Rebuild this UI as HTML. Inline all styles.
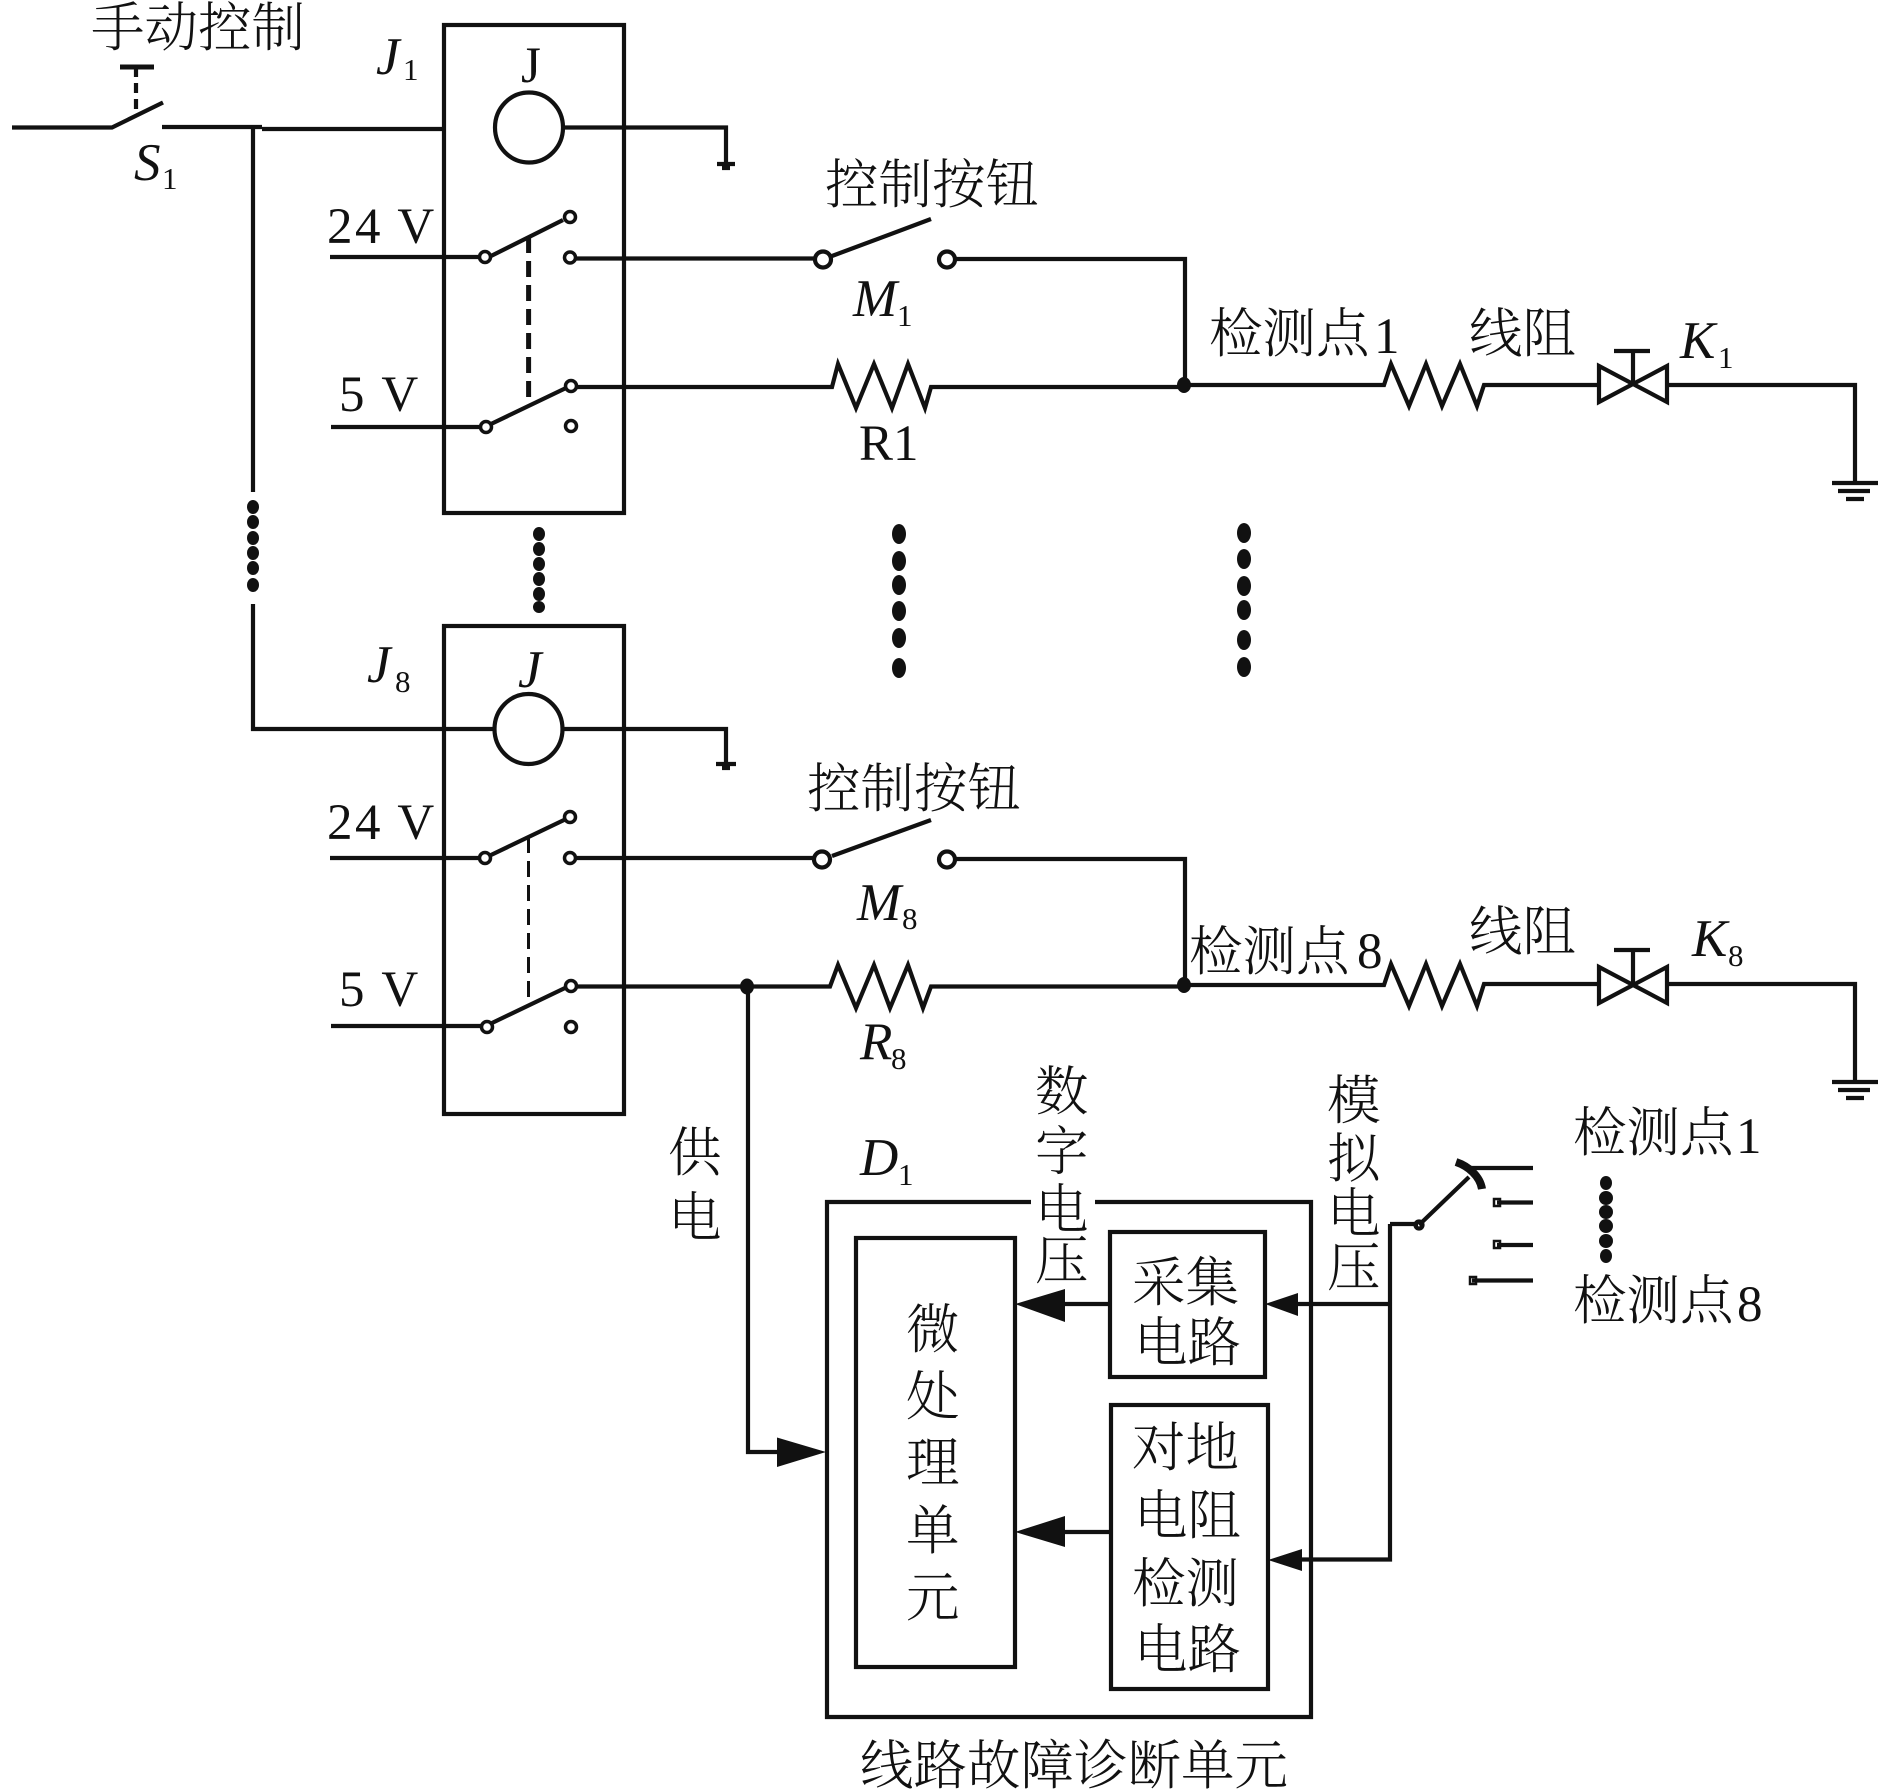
<!DOCTYPE html>
<html><head><meta charset="utf-8">
<style>
html,body{margin:0;padding:0;background:#fff}
svg{display:block}
.c{font-family:"Liberation Serif","Noto Serif CJK SC",serif;font-size:53.5px;font-weight:300;fill:#111}
.l{font-family:"Liberation Serif",serif;font-size:51px;fill:#111}
.v{font-family:"Liberation Serif",serif;font-size:51px;letter-spacing:2.5px;fill:#111}
.i{font-family:"Liberation Serif",serif;font-size:53px;font-style:italic;fill:#111}
.s{font-family:"Liberation Serif",serif;font-size:31px;fill:#111}
</style></head><body>
<svg width="1890" height="1791" viewBox="0 0 1890 1791" xmlns="http://www.w3.org/2000/svg">
<rect width="1890" height="1791" fill="#fff"/>
<g fill="none" stroke="#111" stroke-width="4.2">
<!-- S1 -->
<path d="M12 127.5H112L163 102.5M162 127H262M262 129H443"/>
<path d="M120 67H154" stroke-width="5"/>
<path d="M136 67V115" stroke-dasharray="10 6"/>
<path d="M253 127V492"/>
<!-- relay boxes -->
<rect x="444" y="25" width="180" height="488"/>
<rect x="444" y="626" width="180" height="488"/>
<!-- coil 1 -->
<ellipse cx="529" cy="127.5" rx="34" ry="35"/>
<path d="M562 127.5H726V165"/>
<path d="M717 164H735"/><path d="M722 168H730"/>
<!-- coil 8 -->
<path d="M253 604V729H495"/>
<ellipse cx="528.5" cy="729" rx="34" ry="35" fill="#fff"/>
<path d="M562 729H726V765"/>
<path d="M716 764H736"/><path d="M722 768H730"/>
<!-- J1 contacts -->
<path d="M330 257H479M491 256L563 220M576 258.5H815"/>
<path d="M528.6 237V406" stroke-width="5" stroke-dasharray="16 8"/>
<path d="M331 427H480M491 424L566 388M577 387H832L838 364L856 408L874 364L892 408L908 364L925 408L931 387H1184"/>
<circle cx="485" cy="257" r="5.5" stroke-width="3.5"/>
<circle cx="570" cy="217" r="5.5" stroke-width="3.5"/>
<circle cx="570" cy="257.5" r="5.5" stroke-width="3.5"/>
<circle cx="486" cy="427" r="5.5" stroke-width="3.5"/>
<circle cx="571" cy="386" r="5.5" stroke-width="3.5"/>
<circle cx="571" cy="426" r="5.5" stroke-width="3.5"/>
<!-- M1 -->
<circle cx="823" cy="259.5" r="8"/>
<circle cx="947" cy="259.5" r="8"/>
<path d="M832 256L931 219M955 259H1185V385"/>
<!-- row 1 right -->
<path d="M1184 385H1384L1391 364L1409 406L1426 364L1442 406L1460 364L1477 406L1484 385H1599M1667 385H1855V483"/>
<path d="M1599 366L1667 402V366L1599 402Z"/>
<path d="M1633 384V351M1614 351H1650" />
<path d="M1832 483H1878M1838 491H1870M1846 499H1864"/>
<!-- J8 contacts -->
<path d="M330 858H480M491 855L564 820M576 858H814"/>
<path d="M528.5 837V998" stroke-width="3" stroke-dasharray="16 8"/>
<path d="M331 1026H481M492 1023L565 988M577 986.5H830L838 965L856 1008L874 965L890 1008L908 965L923 1008L931 986.5H1184"/>
<circle cx="485" cy="858" r="5.5" stroke-width="3.5"/>
<circle cx="570" cy="817" r="5.5" stroke-width="3.5"/>
<circle cx="570" cy="858" r="5.5" stroke-width="3.5"/>
<circle cx="487" cy="1027" r="5.5" stroke-width="3.5"/>
<circle cx="571" cy="986" r="5.5" stroke-width="3.5"/>
<circle cx="571" cy="1027" r="5.5" stroke-width="3.5"/>
<!-- M8 -->
<circle cx="822" cy="859.5" r="8"/>
<circle cx="947" cy="859.5" r="8"/>
<path d="M832 856L931 820M955 859H1185V985"/>
<!-- row 8 right -->
<path d="M1184 985H1384L1391 964L1409 1006L1426 964L1442 1006L1460 964L1477 1006L1484 984H1599M1667 984H1855V1082"/>
<path d="M1599 967L1667 1003V967L1599 1003Z"/>
<path d="M1633 984V950M1614 950H1650"/>
<path d="M1832 1082H1878M1838 1090H1870M1846 1098H1864"/>
<!-- feed -->
<path d="M748 986V1452H790"/>
<!-- D1 -->
<path d="M1031 1202H827V1717H1311V1202H1095"/>
<rect x="856" y="1238" width="159" height="429"/>
<rect x="1110" y="1232" width="155" height="145"/>
<rect x="1111" y="1405" width="157" height="284"/>
<path d="M1110 1304H1050M1110 1532H1050M1390 1304H1290M1390 1224V1559.5H1290M1390 1224H1418M1419 1225L1469 1177"/>
<circle cx="1419" cy="1225" r="3.5"/>
<path d="M1456 1162C1468 1166 1480 1176 1482 1189" stroke-width="8"/>
<path d="M1469 1168H1533M1497 1202.5H1533M1497 1245H1533M1472 1280.5H1533"/>
<rect x="1494" y="1199" width="6" height="7" stroke-width="2.5"/>
<rect x="1494" y="1241" width="6" height="7" stroke-width="2.5"/>
<rect x="1470" y="1277" width="6" height="7" stroke-width="2.5"/>
</g>
<g fill="#111">
<!-- junctions -->
<ellipse cx="1184" cy="385" rx="7" ry="8"/>
<ellipse cx="1184" cy="985" rx="7" ry="8"/>
<ellipse cx="747" cy="986.5" rx="7" ry="8"/>
<!-- arrowheads -->
<path d="M777 1437.5L826 1452L777 1467Z"/>
<path d="M1015 1304L1065 1289V1322Z"/>
<path d="M1015 1532L1065 1516V1547Z"/>
<path d="M1265 1304L1298 1293V1316Z"/>
<path d="M1268 1560L1302 1549V1571Z"/>
<!-- dots: left -->
<ellipse cx="253" cy="507" rx="6" ry="7"/><ellipse cx="253" cy="522" rx="6" ry="7"/><ellipse cx="253" cy="538" rx="6" ry="7"/><ellipse cx="253" cy="553" rx="6" ry="7"/><ellipse cx="253" cy="568" rx="6" ry="7"/><ellipse cx="253" cy="585" rx="6" ry="7"/>
<!-- dots: between relays -->
<ellipse cx="539" cy="534" rx="6" ry="7"/><ellipse cx="539" cy="549" rx="6" ry="7"/><ellipse cx="539" cy="564" rx="6" ry="7"/><ellipse cx="539" cy="579" rx="6" ry="7"/><ellipse cx="539" cy="594" rx="6" ry="7"/><ellipse cx="539" cy="607" rx="6" ry="6"/>
<!-- dots: middle -->
<ellipse cx="899" cy="534" rx="7" ry="10"/><ellipse cx="899" cy="561" rx="7" ry="10"/><ellipse cx="899" cy="585" rx="7" ry="10"/><ellipse cx="899" cy="611" rx="7" ry="10"/><ellipse cx="899" cy="638" rx="7" ry="10"/><ellipse cx="899" cy="668" rx="7" ry="10"/>
<!-- dots: right -->
<ellipse cx="1244" cy="533" rx="7" ry="10"/><ellipse cx="1244" cy="559" rx="7" ry="10"/><ellipse cx="1244" cy="586" rx="7" ry="10"/><ellipse cx="1244" cy="610" rx="7" ry="10"/><ellipse cx="1244" cy="640" rx="7" ry="10"/><ellipse cx="1244" cy="667" rx="7" ry="10"/>
<!-- dots: test points -->
<ellipse cx="1606" cy="1183" rx="6" ry="7"/><ellipse cx="1606" cy="1198" rx="7" ry="7"/><ellipse cx="1606" cy="1212" rx="7" ry="7"/><ellipse cx="1606" cy="1226" rx="7" ry="7"/><ellipse cx="1606" cy="1241" rx="7" ry="7"/><ellipse cx="1606" cy="1256" rx="6" ry="7"/>
</g>
<!-- labels -->
<text class="c" x="91" y="46">手动控制</text>
<text class="i" x="134" y="180">S</text><text class="s" x="162" y="189">1</text>
<text class="i" x="376" y="74">J</text><text class="s" x="403" y="80">1</text>
<text class="l" x="521" y="82">J</text>
<text class="v" x="327" y="243">24 V</text>
<text class="v" x="339" y="411">5 V</text>
<text class="c" x="825" y="203">控制按钮</text>
<text class="i" x="853" y="316">M</text><text class="s" x="897" y="326">1</text>
<text class="l" x="859" y="460">R1</text>
<text class="c" x="1209" y="352">检测点</text><text class="l" x="1374" y="353">1</text>
<text class="c" x="1469" y="352">线阻</text>
<text class="i" x="1680" y="358">K</text><text class="s" x="1718" y="368">1</text>
<text class="i" x="367" y="682">J</text><text class="s" x="395" y="692">8</text>
<text class="i" x="518" y="687">J</text>
<text class="v" x="327" y="839">24 V</text>
<text class="v" x="339" y="1006">5 V</text>
<text class="c" x="807" y="807">控制按钮</text>
<text class="i" x="857" y="920">M</text><text class="s" x="902" y="929">8</text>
<text class="i" x="860" y="1059">R</text><text class="s" x="891" y="1069">8</text>
<text class="c" x="1189" y="970">检测点</text><text class="l" x="1357" y="968">8</text>
<text class="c" x="1469" y="950">线阻</text>
<text class="i" x="1692" y="956">K</text><text class="s" x="1728" y="966">8</text>
<text class="c" x="668" y="1171">供</text>
<text class="c" x="668" y="1236">电</text>
<text class="c" x="1035" y="1110">数</text>
<text class="c" x="1035" y="1170">字</text>
<text class="c" x="1035" y="1228">电</text>
<text class="c" x="1035" y="1279">压</text>
<text class="c" x="1327" y="1119">模</text>
<text class="c" x="1327" y="1177">拟</text>
<text class="c" x="1327" y="1232">电</text>
<text class="c" x="1327" y="1286">压</text>
<text class="c" x="906" y="1348">微</text>
<text class="c" x="906" y="1415">处</text>
<text class="c" x="906" y="1481">理</text>
<text class="c" x="906" y="1549">单</text>
<text class="c" x="906" y="1616">元</text>
<text class="c" x="1132" y="1301">采集</text>
<text class="c" x="1134" y="1361">电路</text>
<text class="c" x="1132" y="1466">对地</text>
<text class="c" x="1134" y="1534">电阻</text>
<text class="c" x="1132" y="1602">检测</text>
<text class="c" x="1134" y="1668">电路</text>
<text class="i" x="860" y="1175">D</text><text class="s" x="898" y="1185">1</text>
<text class="c" x="1573" y="1151">检测点</text><text class="l" x="1736" y="1153">1</text>
<text class="c" x="1573" y="1319">检测点</text><text class="l" x="1737" y="1321">8</text>
<text class="c" x="860" y="1784">线路故障诊断单元</text>
</svg>
</body></html>
